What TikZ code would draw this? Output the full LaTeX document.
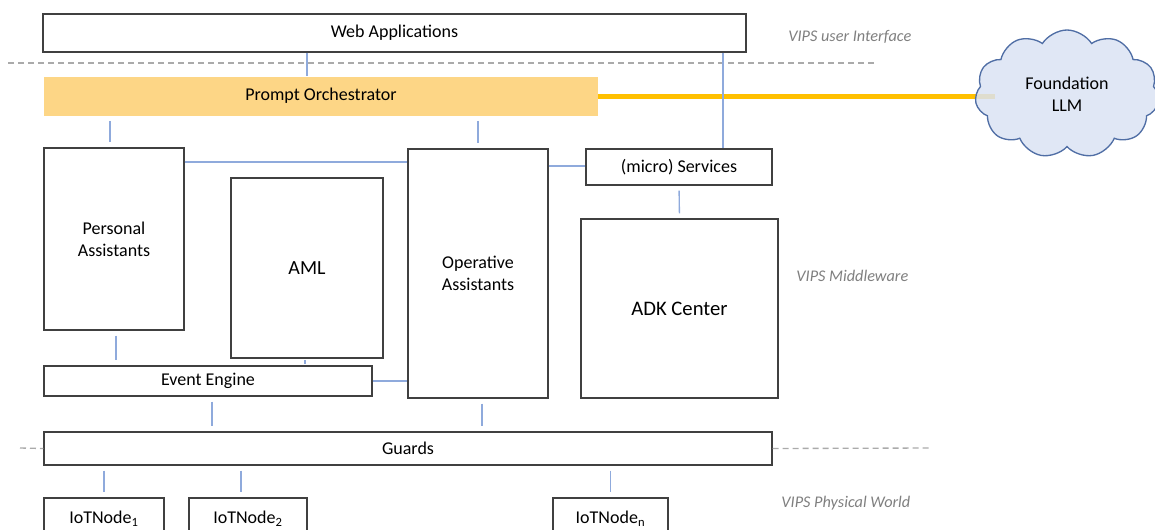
\documentclass[tikz,border=0pt]{standalone}
\usepackage{fontspec}
\setmainfont{Carlito}
\usetikzlibrary{shapes.symbols,backgrounds}

\newcommand*{\pxu}{0.75pt}

\definecolor{linkblue}{RGB}{143,170,220}
\definecolor{dashgray}{RGB}{170,170,170}
\definecolor{labelgray}{RGB}{127,127,127}
\definecolor{orchfill}{RGB}{253,214,134}
\definecolor{llmgold}{RGB}{255,192,0}
\definecolor{cloudfill}{RGB}{218,227,243}
\definecolor{cloudline}{RGB}{80,110,165}

\begin{document}
\begin{tikzpicture}
[
	x=\pxu,
	y=-\pxu,
	font=\fontsize{13.5}{16.5}\selectfont,
	box/.style={draw=black!75,line width=1pt,fill=white,inner sep=0pt,align=center},
	link/.style={linkblue,line width=1pt},
	gaplink/.style={link,shorten <=5*\pxu,shorten >=5*\pxu},
	layer/.style={dashgray,line width=1pt,dash pattern=on 6*\pxu off 4*\pxu},
	layerlabel/.style={labelgray,font=\fontsize{12.2}{14}\selectfont\itshape,anchor=east}
]

	\useasboundingbox (0,0) rectangle (1155,529);

	% layers
	\draw[layer] (8,63) -- (875,63);
	\node[layerlabel] (uilbl) at (916,37) {VIPS user Interface};
	\node[layerlabel] (mwlbl) at (913,276) {VIPS Middleware};
	\node[layerlabel] (pwlbl) at (915,503) {VIPS Physical World};

	% boxes
	\node[box,minimum width=703*\pxu,minimum height=38*\pxu] (web) at (394.5,33) {Web Applications};
	\node[inner sep=0pt,fill=orchfill,minimum width=554*\pxu,minimum height=39*\pxu] (orch) at (321,96) {Prompt Orchestrator};
	\node[box,minimum width=140*\pxu,minimum height=182*\pxu] (pa) at (114,239) {Personal\\Assistants};
	\node[box,minimum width=152*\pxu,minimum height=180*\pxu,font=\fontsize{15}{17}\selectfont] (aml) at (307,268) {AML};
	\node[box,minimum width=140*\pxu,minimum height=249*\pxu] (oa) at (478,273.5) {Operative\\Assistants};
	\node[box,minimum width=186*\pxu,minimum height=36*\pxu] (srv) at (679,167) {(micro) Services};
	\node[box,minimum width=197*\pxu,minimum height=179*\pxu,font=\fontsize{15.5}{17}\selectfont] (adk) at (679.5,308.5) {ADK Center};
	\node[box,minimum width=328*\pxu,minimum height=30*\pxu] (ee) at (208,381) {Event Engine};
	\node[box,minimum width=728*\pxu,minimum height=33*\pxu] (guards) at (408,448.5) {Guards};
	\node[box,minimum width=120*\pxu,minimum height=42*\pxu] (iot1) at (104,519) {IoTNode\textsubscript{1}};
	\node[box,minimum width=118*\pxu,minimum height=42*\pxu] (iot2) at (248,519) {IoTNode\textsubscript{2}};
	\node[box,minimum width=115*\pxu,minimum height=42*\pxu] (iotn) at (610.5,519) {IoTNode\textsubscript{n}};

	% cloud
	\node[cloud,cloud puffs=11,cloud puff arc=115,aspect=1.45,draw=cloudline,line width=1pt,fill=cloudfill,fill opacity=0.85,text opacity=1,minimum width=184*\pxu,minimum height=128*\pxu,inner sep=0pt,align=center] (llm) at (1067,94) {Foundation\\LLM};

	% lower dashed layer line
	\draw[layer] (20,448) -- (guards.west);
	\draw[layer] (guards.east) -- (930,448);

	% orchestrator to LLM
	\begin{scope}[on background layer]
		\draw[llmgold,line width=5*\pxu] (orch.east) -- (orch.east -| 995,0);
	\end{scope}

	% connectors
	\draw[link] (web.south -| aml) -- (orch.north -| aml);
	\draw[link] (web.south -| 723,0) -- (srv.north -| 723,0);
	\draw[gaplink] (orch.south -| 110,0) -- (pa.north -| 110,0);
	\draw[gaplink] (orch.south -| oa) -- (oa.north);
	\draw[link] (pa.east |- 0,162) -- (oa.west |- 0,162);
	\draw[link] (oa.east |- 0,166) -- (srv.west |- 0,166);
	\draw[gaplink] (srv.south) -- (adk.north);
	\draw[gaplink] (pa.south -| 116,0) -- (ee.north -| 116,0);
	\draw[gaplink] (aml.south -| 305,0) -- (ee.north -| 305,0);
	\draw[link] (ee.east) -- (oa.west |- ee.east);
	\draw[gaplink] (ee.south -| 212,0) -- (guards.north -| 212,0);
	\draw[gaplink] (oa.south -| 482,0) -- (guards.north -| 482,0);
	\draw[gaplink] (guards.south -| iot1) -- (iot1.north);
	\draw[gaplink] (guards.south -| 241,0) -- (iot2.north -| 241,0);
	\draw[gaplink] (guards.south -| iotn) -- (iotn.north);

\end{tikzpicture}
\end{document}
